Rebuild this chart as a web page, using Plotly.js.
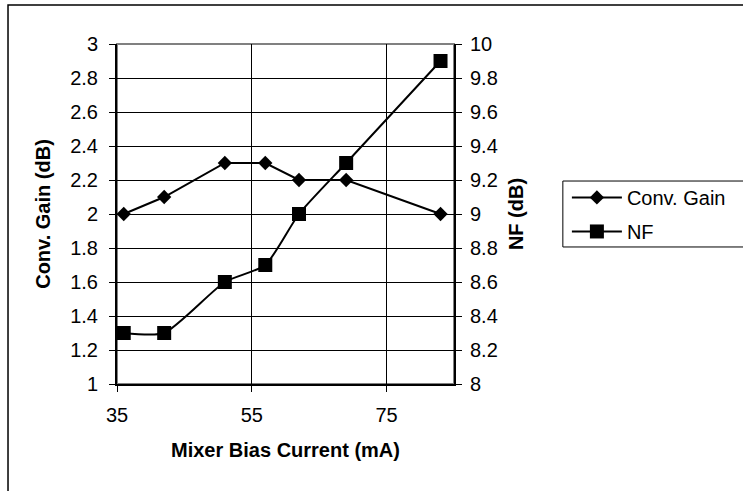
<!DOCTYPE html>
<html>
<head>
<meta charset="utf-8">
<script src="https://cdn.plot.ly/plotly-3.0.1.min.js"></script>
<style>html,body{margin:0;padding:0;background:#fff;}#chart{width:743px;height:491px;}</style>
</head>
<body>
<div id="chart"></div>
<script>
const biasCurrent = [36, 42, 51, 57, 62, 69, 83];
const convGain = [2.0, 2.1, 2.3, 2.3, 2.2, 2.2, 2.0];
const noiseFigure = [8.3, 8.3, 8.6, 8.7, 9.0, 9.3, 9.9];
const xTicks = [35, 55, 75];

const font = 'Liberation Sans, Arial, sans-serif';

const traces = [
  {
    x: biasCurrent, y: convGain, name: 'Conv. Gain', type: 'scatter', mode: 'lines+markers',
    line: {color: '#000', width: 2},
    marker: {symbol: 'diamond', size: 11, color: '#000'},
    yaxis: 'y', legendgroup: 'g1'
  },
  {
    x: biasCurrent, y: noiseFigure, name: 'NF', type: 'scatter', mode: 'lines+markers',
    line: {color: '#000', width: 2, shape: 'spline', smoothing: 0.6},
    marker: {symbol: 'square', size: 14, color: '#000'},
    yaxis: 'y2', legendgroup: 'g2'
  }
];

const layout = {
  width: 743, height: 491,
  margin: {l: 117, r: 289, t: 44, b: 107},
  paper_bgcolor: '#fff', plot_bgcolor: '#fff',
  font: {family: font, color: '#000', size: 20},
  showlegend: true,
  legend: {
    x: 1.335, y: 0.606, xanchor: 'left', yanchor: 'top',
    bgcolor: 'rgba(0,0,0,0)', borderwidth: 0,
    font: {family: font, size: 20, color: '#000'},
    itemwidth: 50, tracegroupgap: 5
  },
  xaxis: {
    range: [35, 85], tickvals: xTicks, ticktext: xTicks.map(String),
    showgrid: true, gridcolor: '#000', gridwidth: 1,
    showline: true, linecolor: '#000', linewidth: 2,
    ticks: 'outside', ticklen: 6, tickcolor: '#000', tickwidth: 1,
    ticklabelstandoff: 6,
    zeroline: false, tickfont: {size: 20},
    title: {text: '<b>Mixer Bias Current (mA)</b>', font: {size: 20}, standoff: 18}
  },
  yaxis: {
    range: [1, 3], dtick: 0.2, tick0: 1,
    showgrid: true, gridcolor: '#000', gridwidth: 1,
    showline: true, linecolor: '#000', linewidth: 2,
    ticks: 'outside', ticklen: 6, tickcolor: '#000', tickwidth: 1,
    ticklabelstandoff: 7,
    zeroline: false, tickfont: {size: 20},
    title: {text: '<b>Conv. Gain (dB)</b>', font: {size: 20}, standoff: 14}
  },
  yaxis2: {
    range: [8, 10], dtick: 0.2, tick0: 8, overlaying: 'y', side: 'right',
    showgrid: false,
    showline: true, linecolor: '#000', linewidth: 2,
    ticks: 'outside', ticklen: 6, tickcolor: '#000', tickwidth: 1,
    ticklabelstandoff: 4,
    zeroline: false, tickfont: {size: 20},
    title: {text: '<b>NF (dB)</b>', font: {size: 20}, standoff: 12}
  },
  shapes: [
    {type: 'rect', xref: 'paper', yref: 'paper', x0: 0, x1: 1, y0: 0, y1: 1,
     line: {color: '#808080', width: 2}, layer: 'between'},
    {type: 'rect', xref: 'paper', yref: 'paper', x0: 1.323, x1: 1.95, y0: 0.403, y1: 0.597,
     line: {color: '#000', width: 1}, layer: 'above'},
    {type: 'rect', xref: 'paper', yref: 'paper', x0: -0.3234, x1: 2.0, y0: -0.5, y1: 1.1147,
     line: {color: '#000', width: 1.5}, layer: 'above'}
  ]
};

Plotly.newPlot('chart', traces, layout, {displayModeBar: false, staticPlot: true});
</script>
</body>
</html>
